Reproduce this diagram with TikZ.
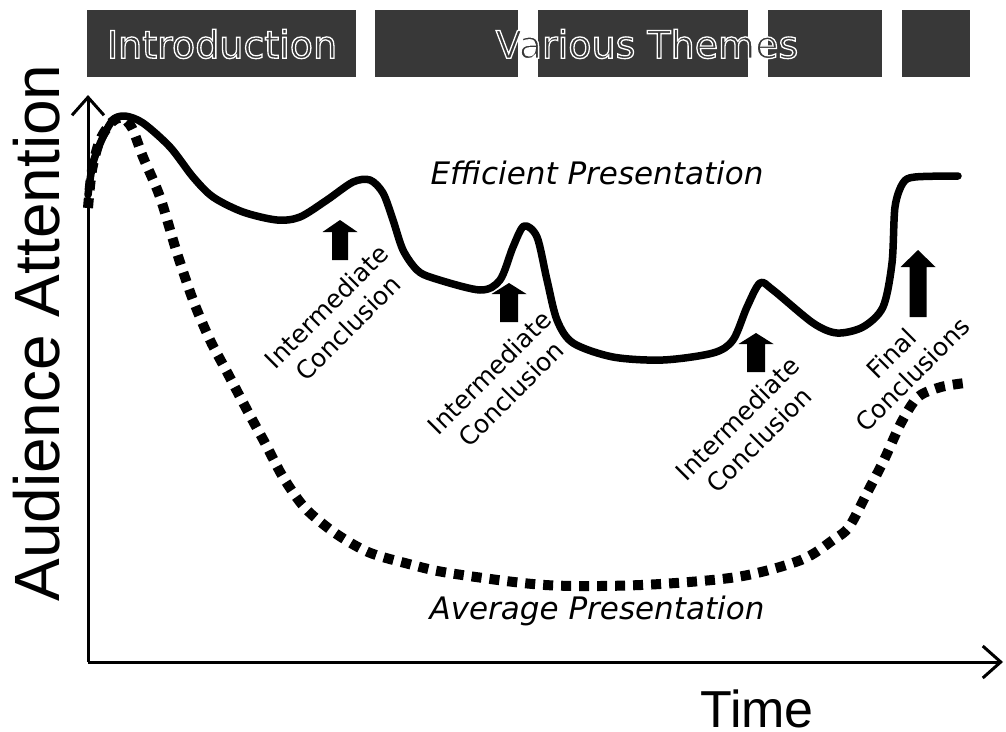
\documentclass[tikz,border=0pt]{standalone}
\usepackage{fontspec}
\setmainfont{DejaVu Sans}
\newfontfamily\axisfont{Liberation Sans}
\usetikzlibrary{arrows.meta}

% Colour of the textured bars at the top
\definecolor{barfill}{gray}{0.22}

% Outlined lettering for the bar titles
\newcommand{\outlinetext}[1]{\special{pdf:code 2 Tr 1.3 w 1 1 1 RG}#1\special{pdf:code 0 Tr}}

\tikzset{
  axisline/.style={line width=3pt, -{Straight Barb[length=18pt,width=32pt,line width=3pt]}},
  efficient/.style={line width=7.5pt, line join=round, line cap=round},
  average/.style={line width=10pt, dash pattern=on 10pt off 8pt},
  bartext/.style={font=\fontsize{38}{44}\selectfont, text=barfill},
  conclabel/.style={font=\fontsize{25}{30}\selectfont, align=center, rotate=45},
  curvelabel/.style={font=\fontsize{31}{36}\selectfont\itshape},
  axislabel/.style={font=\axisfont\fontsize{64}{70}\selectfont, inner sep=0pt}
}

\begin{document}
\begin{tikzpicture}[x=1pt,y=-1pt]

    % Picture frame, in pixel units of the reference
    \useasboundingbox (0,0) rectangle (1006,731);

    % Origin and ends of the axes
    \coordinate (O) at (88,662);
    \coordinate (Ytop) at (88,95);
    \coordinate (Xend) at (1003,662);

    % Bars with the parts of the talk
    \foreach \xa/\xb in {87/356, 375/518, 538/748, 768/882, 902/970}
        \fill[barfill] (\xa,10) rectangle (\xb,77);
    \node[bartext] (intro) at (222,44) {\outlinetext{Introduction}};
    \node[bartext] (themes) at (647,44) {\outlinetext{Various Themes}};

    % Draw the axes
    \draw[axisline] (O) -- (Ytop);
    \draw[axisline] (O) -- (Xend);

    % Average presentation: attention drops and stays low
    \draw[average] plot[smooth] coordinates {
        (88,208) (92,170) (100,140) (112,122) (122,118) (132,128) (143,157)
        (160,197) (177,253) (193,300) (210,340) (227,372) (247,410) (265,443)
        (283,477) (305,508) (335,533) (368,552) (405,563) (449,573) (545,585)
        (641,585) (737,577) (801,560) (833,540) (849,527) (867,493) (884,460)
        (901,423) (918,397) (941,387) (965,383)};

    % Efficient presentation: attention rises at each conclusion
    \draw[efficient] plot[smooth] coordinates {
        (88,195) (93,163) (103,137) (113,120) (125,116) (143,123) (170,147)
        (193,177) (213,197) (243,212) (277,220) (300,217) (327,200) (353,182)
        (370,180) (383,193) (393,220) (403,250) (417,270) (433,278) (480,290)
        (500,280) (513,247) (524,226) (537,237) (547,280) (557,320) (573,343)
        (613,357) (663,360) (713,353) (733,340) (747,307) (760,283) (773,290)
        (813,323) (837,333) (863,327) (883,307) (892,263) (895,207) (903,183)
        (915,177) (958,176)};

    % Block arrows under the peaks: x / bottom / tip / shaft / head / head length
    \foreach \x/\yb/\yt/\sw/\hw/\hl in {340/260/220/16/35/12, 509/322/283/18/35/11,
                                         756/372/333/18/35/11, 918/317/250/17/35/17}
        \fill (\x-\sw/2,\yb) -- (\x-\sw/2,\yt+\hl) -- (\x-\hw/2,\yt+\hl) -- (\x,\yt)
              -- (\x+\hw/2,\yt+\hl) -- (\x+\sw/2,\yt+\hl) -- (\x+\sw/2,\yb) -- cycle;

    % Labels of the conclusions
    \node[conclabel] (concA) at (337,317) {Intermediate\\Conclusion};
    \node[conclabel] (concB) at (500,383) {Intermediate\\Conclusion};
    \node[conclabel] (concC) at (748,429) {Intermediate\\Conclusion};
    \node[conclabel] (concD) at (902,364) {Final\\Conclusions};

    % Names of the two curves
    \node[curvelabel] (effname) at (597,173) {Efficient Presentation};
    \node[curvelabel] (avgname) at (597,611) {Average Presentation};

    % Axis titles
    \node[axislabel, rotate=90] (ylab) at (37,333) {Audience Attention};
    \node[axislabel, font=\axisfont\fontsize{52}{58}\selectfont] (xlab) at (757,709) {Time};

\end{tikzpicture}
\end{document}
